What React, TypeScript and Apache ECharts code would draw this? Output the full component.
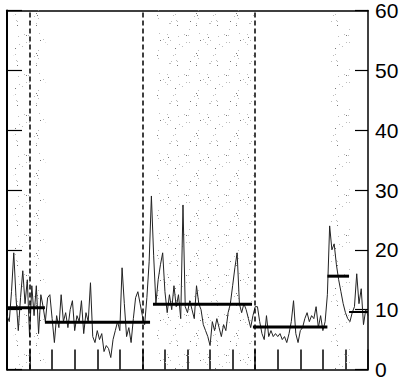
import React, { useEffect, useRef } from "react";
import * as echarts from "echarts";

// x runs over 16 equal periods (bottom ticks); one reading every 0.1 period
const xStep = 0.1;
const values = [
  9, 8, 13, 19.5, 12, 6.5, 12, 16.5, 11, 15,
  5.5, 14, 9, 14, 6, 12.5, 10.5, 8, 12, 12.5,
  8.5, 4.5, 9, 7, 12.5, 8, 9.5, 7, 10, 11.5,
  6.5, 9, 8, 11.5, 6, 9.5, 8, 14.5, 5.5, 4.5,
  6.5, 5, 6, 3, 4, 3.5, 2, 5, 6.5, 8,
  6.5, 17, 11, 5.5, 7, 4.5, 8.5, 12, 13, 11,
  9, 7.5, 12, 18, 29, 19, 11, 15, 17.5, 19.5,
  13, 9.5, 12.5, 10, 14, 10.5, 12.5, 8.5, 27.5, 10.5,
  9.5, 11.5, 10, 8.5, 14, 11, 10, 7.5, 6.5, 5.5,
  4, 8, 6.5, 8.5, 7, 5.5, 7.5, 6.5, 9.5, 11,
  14, 17, 19.5, 11, 9.5, 11, 10, 8.5, 7, 9,
  10.5, 10.5, 8, 6, 5, 9, 5.5, 6.5, 5.5, 6,
  5.5, 6, 5, 5.5, 4.5, 6, 8, 11.5, 6, 4.5,
  6.5, 7, 8.5, 9.5, 8, 9, 8.5, 10.5, 7, 9,
  6.5, 8, 12.5, 24, 20, 21, 17.5, 15, 13, 11,
  9.5, 8.5, 8, 9.5, 10.5, 16, 11, 13.5, 7.5, 10, 9,
];

// period means (thick horizontal segments)
const segStart = [0, 1.68, 6.47, 10.9, 14.2, 15.16];
const segEnd = [1.68, 6.34, 10.86, 14.2, 15.16, 16];
const segMean = [10.3, 7.9, 10.9, 7.1, 15.6, 9.6];

// dashed period boundaries
const dashedAt = [1, 6, 11];

// stippled intervals
const shadeFrom = [0.3, 6.65, 14.36];
const shadeTo = [1.7, 10.95, 15.2];

const X_MIN = 0;
const X_MAX = 16;
const Y_MIN = 0;
const Y_MAX = 60;

function makeStipple(): HTMLCanvasElement {
  const c = document.createElement("canvas");
  c.width = 40;
  c.height = 40;
  const ctx = c.getContext("2d")!;
  for (let i = 0; i < 34; i++) {
    const x = (i * 23 + ((i * i) % 13)) % 40;
    const y = (i * 31 + ((i * i * 3) % 11)) % 40;
    ctx.fillStyle = i % 4 === 0 ? "#777" : "#bdbdbd";
    ctx.fillRect(x, y, 1, 1);
  }
  return c;
}

export default function App() {
  const ref = useRef<HTMLDivElement>(null);
  useEffect(() => {
    if (!ref.current) return;
    const chart = echarts.init(ref.current, undefined, { renderer: "svg" });
    const lineData = values.map((v, i) => [+(i * xStep).toFixed(2), v]);
    const stipple = makeStipple();
    const font = "'Liberation Sans', Arial, sans-serif";
    const segSeries = segMean.map((m, k) => ({
      type: "line",
      data: [
        [segStart[k], m],
        [segEnd[k], m],
      ],
      showSymbol: false,
      symbol: "none",
      lineStyle: { color: "#000", width: k === 5 ? 2 : 3 },
      z: 5,
      silent: true,
    }));
    chart.setOption({
      animation: false,
      grid: { left: 7, right: 42, top: 10, bottom: 5 },
      xAxis: [
        {
          type: "value",
          min: X_MIN,
          max: X_MAX,
          interval: 1,
          position: "bottom",
          axisLine: { show: true, onZero: false, lineStyle: { color: "#000", width: 1.5 } },
          axisTick: { show: true, inside: true, length: 20, lineStyle: { color: "#000", width: 1.5 } },
          axisLabel: { show: false },
          splitLine: { show: false },
        },
        {
          type: "value",
          min: X_MIN,
          max: X_MAX,
          interval: 1,
          position: "top",
          axisLine: { show: true, onZero: false, lineStyle: { color: "#000", width: 1.5 } },
          axisTick: { show: false },
          axisLabel: { show: false },
          splitLine: { show: false },
        },
      ],
      yAxis: [
        {
          type: "value",
          min: Y_MIN,
          max: Y_MAX,
          interval: 10,
          position: "right",
          axisLine: { show: true, onZero: false, lineStyle: { color: "#000", width: 1.5 } },
          axisTick: { show: true, inside: true, length: 13, lineStyle: { color: "#000", width: 1.2 } },
          axisLabel: { show: true, color: "#000", fontSize: 21, fontFamily: font, margin: 7 },
          splitLine: { show: false },
        },
        {
          type: "value",
          min: Y_MIN,
          max: Y_MAX,
          interval: 10,
          position: "left",
          axisLine: { show: true, onZero: false, lineStyle: { color: "#000", width: 2 } },
          axisTick: { show: true, inside: true, length: 15, lineStyle: { color: "#000", width: 1.2 } },
          axisLabel: { show: false },
          splitLine: { show: false },
        },
      ],
      series: [
        {
          type: "line",
          data: lineData,
          showSymbol: false,
          symbol: "none",
          lineStyle: { opacity: 0, width: 0 },
          z: 1,
          silent: true,
          markArea: {
            silent: true,
            itemStyle: { color: { image: stipple, repeat: "repeat" } as any },
            data: shadeFrom.map((a, k) => [{ xAxis: a }, { xAxis: shadeTo[k] }]),
          },
        },
        {
          type: "line",
          data: lineData,
          showSymbol: false,
          symbol: "none",
          lineStyle: { color: "#222", width: 1 },
          z: 3,
          silent: true,
          markLine: {
            silent: true,
            symbol: "none",
            label: { show: false },
            lineStyle: { color: "#000", width: 1.5, type: [5, 3] },
            data: dashedAt.map((x) => ({ xAxis: x })),
          },
        },
        ...segSeries,
      ],
    });
    return () => chart.dispose();
  }, []);
  return (
    <div
      ref={ref}
      style={{ position: "fixed", left: 0, top: 0, width: 410, height: 380, background: "#fff" }}
    />
  );
}
